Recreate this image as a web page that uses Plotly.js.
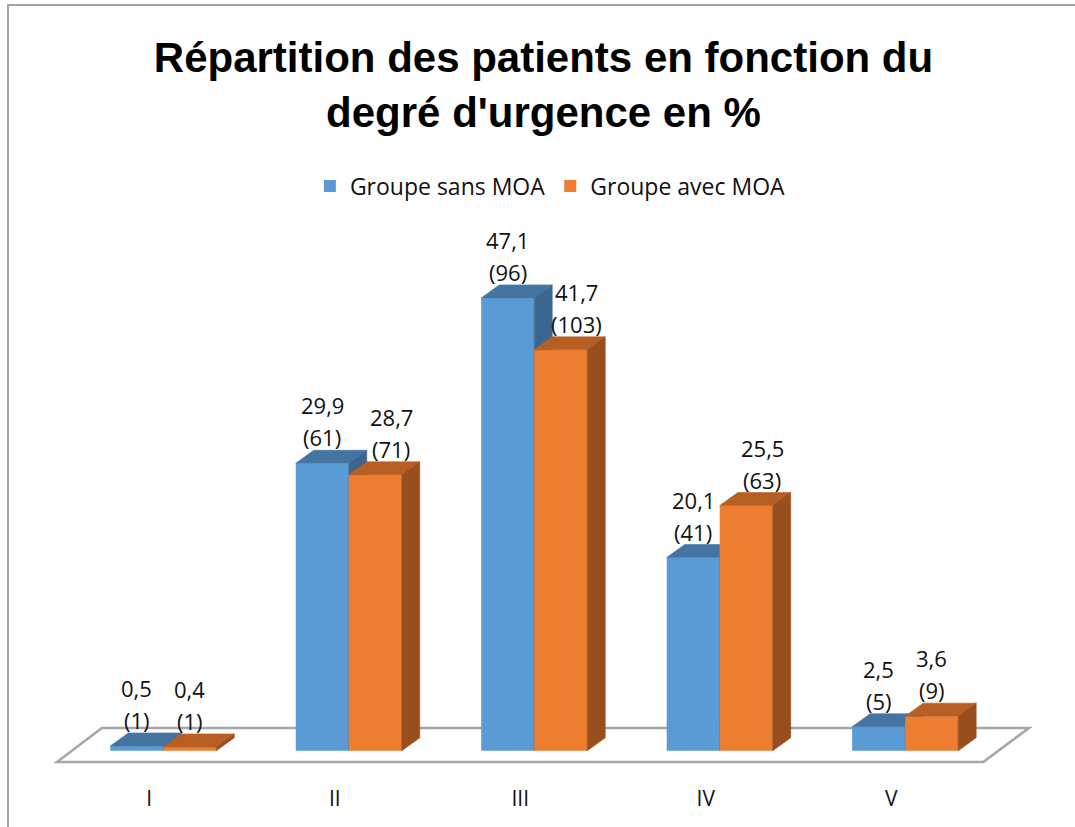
<!DOCTYPE html>
<html>
<head>
<meta charset="utf-8">
<script src="https://cdn.plot.ly/plotly-3.0.1.min.js"></script>
<style>
  html, body { margin: 0; padding: 0; background: #fff; overflow: hidden; }
  #chart { position: absolute; left: 0; top: 0; width: 1075px; height: 827px; }
  #frame { position: absolute; left: 7px; top: 4px; width: 1200px; height: 1000px;
           border-left: 2px solid #A3A3A3; border-top: 2px solid #A3A3A3; pointer-events: none; }
</style>
</head>
<body>
<div id="chart"></div>
<div id="frame"></div>
<script>
// ---- data ----
const categories = ['I', 'II', 'III', 'IV', 'V'];
const seriesNames = ['Groupe sans MOA', 'Groupe avec MOA'];
const sansMOA = [0.5, 29.9, 47.1, 20.1, 2.5];
const sansMOACounts = [1, 61, 96, 41, 5];
const avecMOA = [0.4, 28.7, 41.7, 25.5, 3.6];
const avecMOACounts = [1, 71, 103, 63, 9];

// ---- style / geometry ----
const W = 1075, H = 827;
const margin = { l: 52, r: 40, t: 270, b: 57 };
const xRange = [-0.6, 4.7];
const yRange = [-2, 50];
const pxPerX = (W - margin.l - margin.r) / (xRange[1] - xRange[0]);
const pxPerY = (H - margin.t - margin.b) / (yRange[1] - yRange[0]);
const barWpx = 53, depthXpx = 18, depthYpx = 13;
const bw = barWpx / pxPerX, dx = depthXpx / pxPerX, dy = depthYpx / pxPerY;
const orangeLabelShift = [0, 16, 16, 16, 0];
const colors = {
  blueFront: '#5B9BD5', blueTop: '#4674A2', blueSide: '#3B6690',
  orangeFront: '#ED7D31', orangeTop: '#B75E23', orangeSide: '#994E1D'
};
const xs = categories.map((c, i) => i);

function faces(vals, left, kind) {
  const px = [], py = [];
  vals.forEach((v, i) => {
    const x0 = xs[i] + left, x1 = x0 + bw;
    let pts;
    if (kind === 'top') pts = [[x0, v], [x1, v], [x1 + dx, v + dy], [x0 + dx, v + dy]];
    else pts = [[x1, 0], [x1, v], [x1 + dx, v + dy], [x1 + dx, dy]];
    pts.forEach(p => { px.push(p[0]); py.push(p[1]); });
    px.push(pts[0][0]); py.push(pts[0][1]);
    px.push(null); py.push(null);
  });
  return { x: px, y: py };
}

function polyTrace(vals, left, kind, color, xa, ya) {
  const f = faces(vals, left, kind);
  return { type: 'scatter', mode: 'lines', x: f.x, y: f.y, fill: 'toself', fillcolor: color,
           line: { color: color, width: 0.6 }, showlegend: false, hoverinfo: 'skip',
           xaxis: xa, yaxis: ya };
}

const fmt = v => v.toFixed(1).replace('.', ',');

const traces = [
  { type: 'bar', name: seriesNames[0], x: xs, y: sansMOA, width: bw, offset: -bw,
    marker: { color: colors.blueFront, line: { width: 0 } }, xaxis: 'x', yaxis: 'y' },
  polyTrace(sansMOA, -bw, 'top', colors.blueTop, 'x', 'y'),
  polyTrace(sansMOA, -bw, 'side', colors.blueSide, 'x', 'y'),
  { type: 'bar', name: seriesNames[1], x: xs, y: avecMOA, width: bw, offset: 0,
    marker: { color: colors.orangeFront, line: { width: 0 } }, xaxis: 'x2', yaxis: 'y2' },
  polyTrace(avecMOA, 0, 'top', colors.orangeTop, 'x2', 'y2'),
  polyTrace(avecMOA, 0, 'side', colors.orangeSide, 'x2', 'y2')
];

const labelFont = { family: 'Open Sans', size: 22, color: '#111111' };
const annotations = [];
function addLabels(vals, counts, left, shifts) {
  vals.forEach((v, i) => {
    const xc = xs[i] + left + bw / 2;
    const base = { x: xc, y: v + dy, xref: 'x', yref: 'y', showarrow: false,
                   yanchor: 'middle', xanchor: 'center', font: labelFont,
                   xshift: shifts ? shifts[i] : 0 };
    annotations.push(Object.assign({}, base, { text: '(' + counts[i] + ')', yshift: 13 }));
    annotations.push(Object.assign({}, base, { text: fmt(v), yshift: 45 }));
  });
}
addLabels(sansMOA, sansMOACounts, -bw, null);
addLabels(avecMOA, avecMOACounts, 0, orangeLabelShift);

// floor (decoration)
const fl = { frontY: -1.16, backY: 2.37, frontL: -0.573, frontR: 4.421, backL: -0.331, backR: 4.668 };
const floorPath = `M${fl.frontL},${fl.frontY} L${fl.frontR},${fl.frontY} L${fl.backR},${fl.backY} L${fl.backL},${fl.backY} Z`;

const layout = {
  width: W, height: H,
  margin: margin,
  paper_bgcolor: 'rgba(0,0,0,0)', plot_bgcolor: 'rgba(0,0,0,0)',
  barmode: 'overlay',
  title: {
    text: 'Répartition des patients en fonction du<br>degré d\'urgence en %',
    font: { family: 'Liberation Sans', size: 42, weight: 'bold', color: '#000' },
    x: 0.5, xanchor: 'center', xref: 'paper',
    y: 1 - 72 / H, yanchor: 'top', yref: 'container'
  },
  showlegend: true,
  legend: {
    orientation: 'h', x: 0.507, xanchor: 'center', y: 1.168, yanchor: 'middle',
    font: { family: 'Open Sans', size: 23, color: '#111111' },
    bgcolor: 'rgba(0,0,0,0)', itemwidth: 30, traceorder: 'normal'
  },
  xaxis: {
    range: xRange, tickvals: xs, ticktext: categories,
    showgrid: false, zeroline: false, showline: false, ticks: '',
    ticklabelshift: -14, ticklabelstandoff: 14,
    tickfont: { family: 'Open Sans', size: 21, color: '#111111' }, fixedrange: true
  },
  yaxis: { range: yRange, visible: false, showgrid: false, zeroline: false, fixedrange: true },
  xaxis2: { matches: 'x', overlaying: 'x', visible: false, range: xRange },
  yaxis2: { matches: 'y', overlaying: 'y', visible: false, range: yRange },
  shapes: [
    { type: 'path', path: floorPath, xref: 'x', yref: 'y', layer: 'below',
      fillcolor: '#ffffff', line: { color: '#A6A6A6', width: 2.5 } }
  ],
  annotations: annotations
};

Plotly.newPlot('chart', traces, layout, { displayModeBar: false, staticPlot: true });
</script>
</body>
</html>
